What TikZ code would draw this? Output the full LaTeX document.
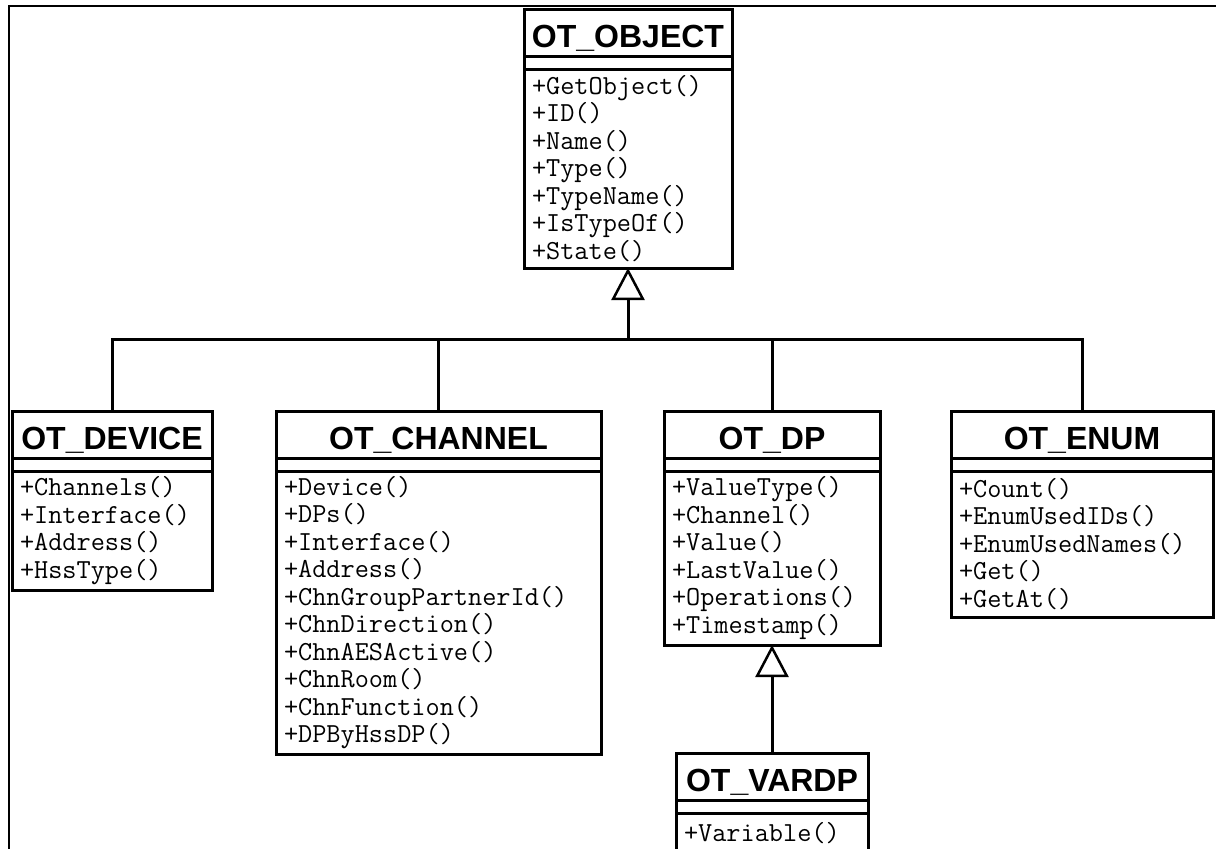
\documentclass[tikz,border=0pt]{standalone}
\usepackage{fontspec}
\usepackage{tikz}
\usetikzlibrary{positioning, arrows.meta}
\newfontfamily\umlsans{Liberation Sans}

\tikzset{
  classname/.style={draw, line width=3pt, outer sep=0pt, inner sep=0pt, anchor=north west,
    minimum height=47pt, text height=30pt, text depth=0pt,
    font=\umlsans\bfseries\fontsize{32}{36}\selectfont},
  classattr/.style={draw, line width=3pt, outer sep=0pt, inner sep=0pt,
    minimum height=13pt, below=0pt of #1},
  classops/.style={draw, line width=3pt, outer sep=0pt, inner xsep=8pt, inner ysep=2pt,
    align=left, below=0pt of #1, font=\ttfamily\fontsize{27.5}{27.5}\selectfont},
  inherit/.style={line width=3pt, -{Triangle[open, length=32pt, width=33pt, line width=2.5pt]}},
  link/.style={line width=3pt}
}

\begin{document}
\begin{tikzpicture}[x=1pt, y=-1pt]
    \path[use as bounding box, clip] (0,0) rectangle (1216,849);
    \draw[line width=2pt] (9,849) -- (9,6) -- (1216,6);

    % base class
    \node[classname, minimum width=208pt] (object) at (524,9) {OT\_OBJECT};
    \node[classattr=object, minimum width=208pt] (object-attr) {};
    \node[classops=object-attr, text width=192pt, minimum height=199pt] (object-ops)
        {+GetObject()\\+ID()\\+Name()\\+Type()\\+TypeName()\\+IsTypeOf()\\+State()};

    % derived classes
    \node[classname, minimum width=200pt] (device) at (12,411) {OT\_DEVICE};
    \node[classattr=device, minimum width=200pt] (device-attr) {};
    \node[classops=device-attr, text width=184pt, minimum height=119pt] (device-ops)
        {+Channels()\\+Interface()\\+Address()\\+HssType()};

    \node[classname, minimum width=325pt] (channel) at (276,411) {OT\_CHANNEL};
    \node[classattr=channel, minimum width=325pt] (channel-attr) {};
    \node[classops=channel-attr, text width=309pt, minimum height=283pt] (channel-ops)
        {+Device()\\+DPs()\\+Interface()\\+Address()\\+ChnGroupPartnerId()\\+ChnDirection()\\+ChnAESActive()\\+ChnRoom()\\+ChnFunction()\\+DPByHssDP()};

    \node[classname, minimum width=216pt] (dp) at (664,411) {OT\_DP};
    \node[classattr=dp, minimum width=216pt] (dp-attr) {};
    \node[classops=dp-attr, text width=200pt, minimum height=174pt] (dp-ops)
        {+ValueType()\\+Channel()\\+Value()\\+LastValue()\\+Operations()\\+Timestamp()};

    \node[classname, minimum width=262pt] (enum) at (951,411) {OT\_ENUM};
    \node[classattr=enum, minimum width=262pt] (enum-attr) {};
    \node[classops=enum-attr, text width=246pt, minimum height=146pt] (enum-ops)
        {+Count()\\+EnumUsedIDs()\\+EnumUsedNames()\\+Get()\\+GetAt()};

    \node[classname, minimum width=192pt] (vardp) at (676,753) {OT\_VARDP};
    \node[classattr=vardp, minimum width=192pt] (vardp-attr) {};
    \node[classops=vardp-attr, text width=176pt, minimum height=40pt] (vardp-ops)
        {+Variable()};

    % generalisation
    \coordinate (bus) at (628,339);
    \draw[inherit] (bus) -- (object-ops.south);
    \draw[link] (device.north) |- (bus);
    \draw[link] (channel.north) |- (bus);
    \draw[link] (dp.north) |- (bus);
    \draw[link] (enum.north) |- (bus);
    \draw[inherit] (vardp.north) -- (dp-ops.south);
\end{tikzpicture}
\end{document}
